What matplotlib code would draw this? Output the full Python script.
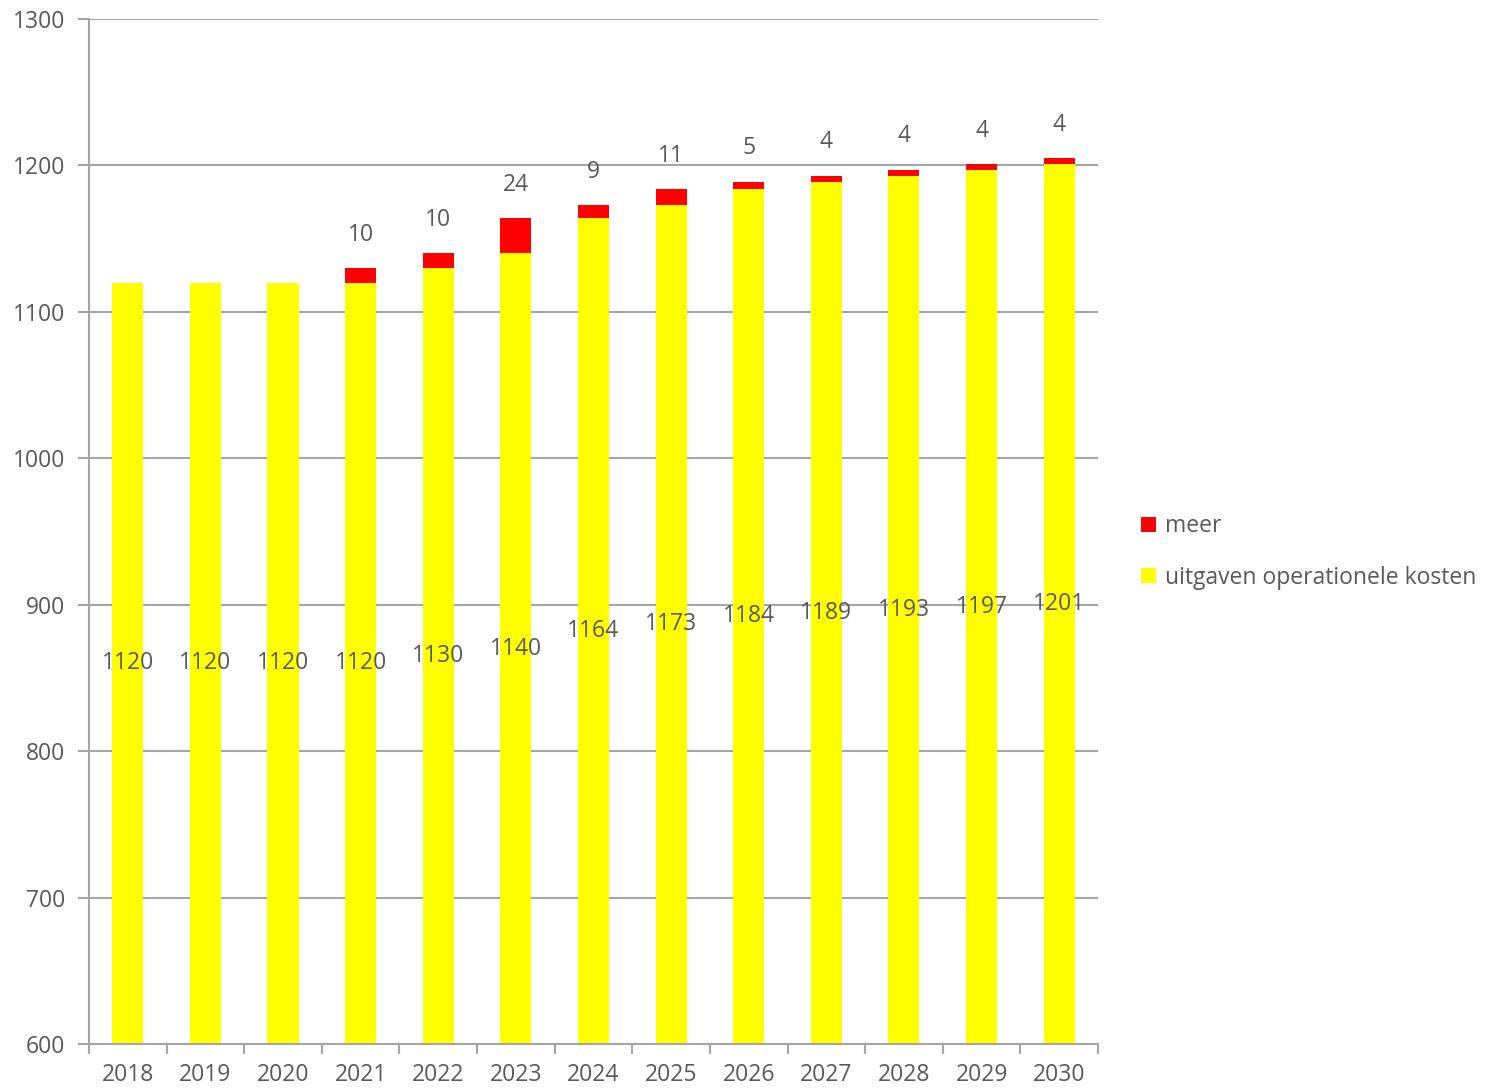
import matplotlib.pyplot as plt
import numpy as np

plt.rcParams["font.family"] = ["Open Sans", "DejaVu Sans"]

years = ["2018", "2019", "2020", "2021", "2022", "2023", "2024",
         "2025", "2026", "2027", "2028", "2029", "2030"]
uitgaven = [1120, 1120, 1120, 1120, 1130, 1140, 1164,
            1173, 1184, 1189, 1193, 1197, 1201]
meer = [0, 0, 0, 10, 10, 24, 9, 11, 5, 4, 4, 4, 4]

text_color = "#595959"
axis_color = "#a6a6a6"
ymin = 600
fs = 16.5

fig = plt.figure(figsize=(14.85, 10.91), dpi=100)
ax = fig.add_axes([0.0599, 0.0431, 0.6795, 0.9395])

x = np.arange(len(years))
width = 0.40

# gestapelde staven
base = ax.bar(x, np.array(uitgaven) - ymin, width, bottom=ymin,
              color="#ffff00", label="uitgaven operationele kosten", zorder=2)
top = ax.bar(x, meer, width, bottom=uitgaven, color="#ff0000",
             label="meer", zorder=2)

# labels
for i in range(len(years)):
    ax.text(x[i], (ymin + uitgaven[i]) / 2, str(uitgaven[i]),
            ha="center", va="center", fontsize=fs, color=text_color, zorder=3)
    if meer[i] > 0:
        ax.annotate(str(meer[i]), (x[i], uitgaven[i] + meer[i]),
                    xytext=(0, 24), textcoords="offset points",
                    ha="center", va="center", fontsize=fs, color=text_color)

ax.set_xlim(-0.5, len(years) - 0.5)
ax.set_ylim(ymin, 1300)
ax.set_yticks(np.arange(600, 1301, 100))
ax.yaxis.grid(True, color=axis_color, linewidth=1.5, zorder=0)
ax.set_axisbelow(True)

# categoriegrenzen als ticks
ax.set_xticks(np.arange(-0.5, len(years)), minor=False)
ax.set_xticklabels([])
ax.set_xticks(x, minor=True)
ax.set_xticklabels(years, minor=True)
ax.tick_params(axis="x", which="major", length=7, width=1.5, color=axis_color)
ax.tick_params(axis="x", which="minor", length=0, pad=14, labelsize=fs,
               labelcolor=text_color)
ax.tick_params(axis="y", length=8, width=1.5, color=axis_color,
               labelsize=fs, labelcolor=text_color, pad=9)

for side in ["top", "right"]:
    ax.spines[side].set_visible(False)
for side in ["left", "bottom"]:
    ax.spines[side].set_color(axis_color)
    ax.spines[side].set_linewidth(1.5)

ax.legend(handles=[top, base], loc="center left",
          bbox_to_anchor=(1.022, 0.48), frameon=False, fontsize=fs,
          labelcolor=text_color, handlelength=0.65, handleheight=0.65,
          handletextpad=0.4, labelspacing=1.2)

plt.savefig("out.png", dpi=100)
plt.close()
